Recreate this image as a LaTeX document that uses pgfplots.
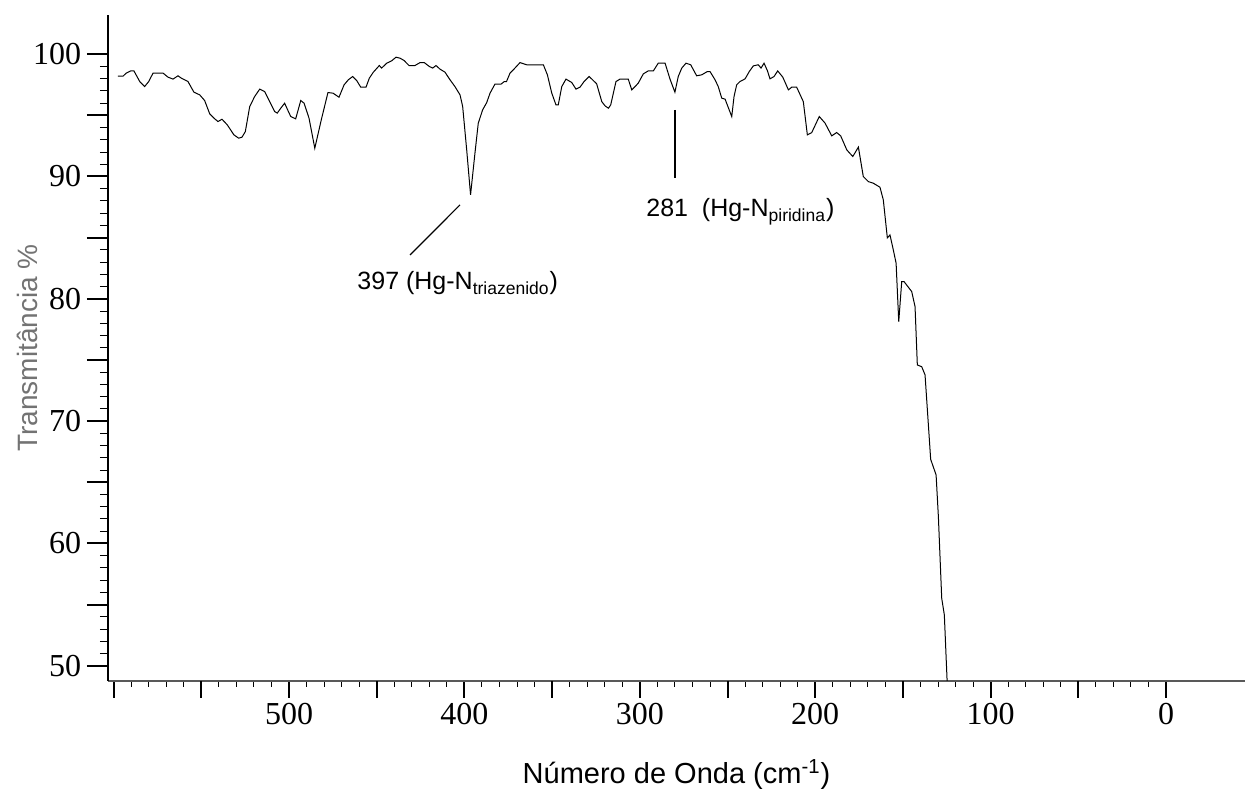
\documentclass[border=0pt]{standalone}
\usepackage{fontspec}
\setmainfont{Liberation Serif}
\newfontfamily\arial{Liberation Sans}
\usepackage{pgfplots}
\pgfplotsset{compat=1.18}
\definecolor{labgray}{RGB}{115,115,115}

\begin{document}
\begin{tikzpicture}
\begin{axis}[
  at={(0,0)}, anchor=south west,
  scale only axis, width=568.5pt, height=332.85pt,
  x dir=reverse, xmin=-45, xmax=603.2, ymin=48.78, ymax=103.2,
  axis x line=bottom, axis y line=left,
  x axis line style={-, black!65, line width=1pt},
  y axis line style={-, black, line width=0.6pt},
  tick align=outside,
  xtick={0,100,200,300,400,500,600}, xticklabels={0,100,200,300,400,500,{}},
  ytick={50,60,70,80,90,100},
  minor x tick num=9, minor y tick num=9,
  extra x ticks={50,150,250,350,450,550}, extra x tick labels={},
  extra y ticks={55,65,75,85,95}, extra y tick labels={},
  every major x tick/.append style={/pgfplots/major tick length=8.5pt},
  every major y tick/.append style={/pgfplots/major tick length=10.5pt},
  every minor x tick/.append style={/pgfplots/minor tick length=3pt},
  every minor y tick/.append style={/pgfplots/minor tick length=4pt},
  every extra x tick/.append style={/pgfplots/major tick length=6pt},
  every extra y tick/.append style={/pgfplots/major tick length=8pt},
  major tick style={black, line width=1pt},
  minor tick style={black, line width=0.5pt},
  /pgf/number format/assume math mode=true,
  tick label style={font=\fontsize{16}{18}\selectfont},
  xticklabel style={inner sep=2pt, yshift=-5pt},
  yticklabel style={inner sep=1.5pt, xshift=-7.5pt},
  xlabel={Número de Onda (cm\textsuperscript{-1})},
  ylabel={Transmitância \%},
  xlabel style={at={(axis description cs:0.5,-0.1412)}, anchor=center,
    font={\arial\fontsize{14.5}{17}\selectfont}},
  ylabel style={at={(axis description cs:-0.0704,0.5)}, anchor=center,
    text=labgray, font={\arial\fontsize{14}{17}\selectfont}},
]
\addplot[black, line width=0.5pt] coordinates {
(597.5,98.20) (594.6,98.20) (592.8,98.45) (590.2,98.63) (588.4,98.63)
(585.1,97.76) (582.3,97.35) (580.0,97.76) (577.5,98.45) (571.8,98.45)
(569.0,98.12) (566.1,97.96) (563.3,98.23) (561.4,98.04) (557.6,97.76)
(554.2,96.89) (550.9,96.67) (548.1,96.21) (545.2,95.12) (542.8,94.77)
(540.5,94.49) (538.2,94.68) (535.2,94.22) (531.4,93.40) (528.7,93.13)
(526.8,93.21) (524.9,93.67) (522.4,95.72) (519.6,96.53) (516.7,97.14)
(513.9,96.94) (511.0,96.12) (508.2,95.31) (506.7,95.18) (504.7,95.58)
(502.5,95.99) (500.6,95.39) (499.0,94.90) (496.2,94.71) (493.3,96.21)
(491.4,95.99) (488.6,94.77) (485.3,92.31) (481.6,94.63) (477.8,96.86)
(474.9,96.81) (471.5,96.48) (468.6,97.49) (466.2,97.90) (463.7,98.17)
(461.4,97.84) (459.1,97.30) (456.1,97.30) (454.2,98.04) (451.9,98.53)
(448.5,99.07) (447.2,98.86) (444.3,99.26) (441.5,99.45) (439.0,99.75)
(436.7,99.67) (434.4,99.48) (431.6,99.07) (428.2,99.07) (425.3,99.31)
(422.9,99.31) (420.0,98.99) (418.1,98.86) (416.2,99.07) (413.9,98.77)
(411.1,98.53) (408.2,97.90) (405.4,97.35) (402.5,96.67) (401.0,95.72)
(398.7,92.17) (396.5,88.50) (394.0,91.90) (392.1,94.36) (389.6,95.45)
(387.3,96.04) (385.4,96.81) (382.6,97.55) (379.1,97.55) (377.3,97.76)
(376.0,97.76) (374.0,98.45) (371.2,98.86) (368.3,99.31) (364.5,99.13)
(355.0,99.13) (352.7,98.31) (350.2,96.81) (347.8,95.85) (346.5,95.85)
(344.5,97.35) (342.1,97.96) (338.8,97.68) (336.4,97.14) (334.1,97.30)
(331.8,97.76) (328.9,98.17) (326.5,97.84) (324.6,97.57) (321.7,96.12)
(319.8,95.77) (317.9,95.58) (316.6,95.85) (313.6,97.76) (311.3,97.96)
(306.6,97.96) (304.6,97.08) (302.7,97.35) (300.9,97.63) (298.0,98.39)
(295.2,98.63) (292.3,98.63) (289.5,99.26) (285.6,99.26) (282.8,97.96)
(280.0,96.89) (278.1,98.17) (276.1,98.86) (273.7,99.26) (271.0,99.13)
(267.6,98.23) (264.7,98.31) (261.5,98.58) (260.0,98.58) (257.1,97.90)
(255.3,97.35) (253.3,96.40) (251.4,96.32) (247.6,94.90) (246.3,96.53)
(244.8,97.49) (242.9,97.76) (240.0,97.98) (237.6,98.58) (235.3,99.04)
(232.5,99.13) (230.9,98.86) (229.2,99.26) (227.3,98.66) (225.8,97.98)
(223.5,98.17) (221.4,98.63) (218.5,98.12) (215.3,97.08) (213.4,97.30)
(210.6,97.30) (206.8,96.12) (204.5,93.40) (202.0,93.59) (197.7,94.90)
(194.4,94.36) (190.6,93.32) (187.8,93.59) (185.5,93.32) (182.0,92.17)
(178.6,91.63) (175.4,92.40) (172.6,89.99) (169.7,89.58) (166.9,89.45)
(163.1,89.12) (161.2,88.09) (158.9,84.98) (157.4,85.22) (155.5,84.00)
(153.9,82.91) (152.4,78.13) (150.7,81.41) (149.4,81.41) (145.0,80.59)
(143.1,79.36) (141.8,74.59) (139.3,74.45) (137.4,73.78) (134.2,66.88)
(131.1,65.60) (129.8,62.19) (127.9,55.52) (126.4,54.15) (124.6,48.00)
};
% annotations
\draw[line width=0.6pt] (axis cs:431.0,83.59) -- (axis cs:402.5,87.68);
\draw[line width=0.8pt] (axis cs:280.0,95.45) -- (axis cs:280.0,89.88);
\node[anchor=base west, inner sep=0pt, font={\arial\fontsize{12.5}{15}\selectfont}]
  at (axis cs:461.2,80.73) {397 (Hg-N\textsubscript{triazenido})};
\node[anchor=base west, inner sep=0pt, font={\arial\fontsize{12.5}{15}\selectfont}]
  at (axis cs:296.5,86.70) {281\ \ (Hg-N\textsubscript{piridina})};
\end{axis}
\pgfresetboundingbox
\path[use as bounding box] (-54pt,-59.65pt) rectangle (568.5pt,340.35pt);
\end{tikzpicture}
\end{document}
